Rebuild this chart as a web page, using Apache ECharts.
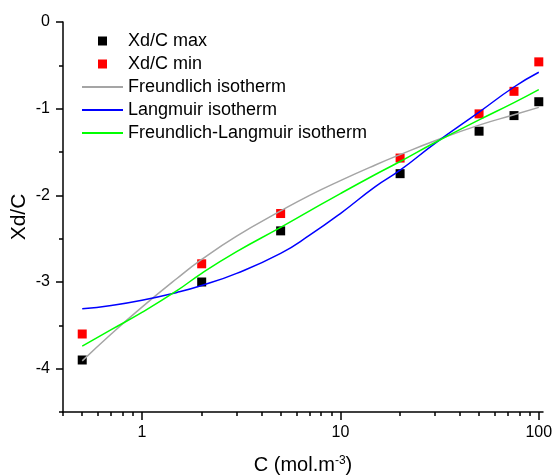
<!DOCTYPE html>
<html>
<head>
<meta charset="utf-8">
<script src="https://cdn.jsdelivr.net/npm/echarts@6/dist/echarts.min.js"></script>
<style>
  html, body { margin: 0; padding: 0; background: #fff; }
  #chart { width: 554px; height: 475px; }
</style>
</head>
<body>
<div id="chart"></div>
<script>
// measured points
const concentrations = [0.5, 2, 5, 20, 50, 75, 100];
const xdcMax = [-3.90, -3.00, -2.41, -1.75, -1.26, -1.08, -0.92];
const xdcMin = [-3.60, -2.79, -2.21, -1.57, -1.06, -0.80, -0.46];

// fitted isotherm curves
const curveC = [0.5, 0.7, 1, 1.5, 2, 3, 5, 7, 10, 15, 20, 30, 50, 75, 100];
const freundlich = [-3.91, -3.60, -3.29, -2.96, -2.74, -2.47, -2.18, -2.00, -1.83, -1.65, -1.53, -1.37, -1.19, -1.07, -0.985];
const langmuir = [-3.31, -3.27, -3.21, -3.12, -3.04, -2.90, -2.67, -2.46, -2.21, -1.90, -1.71, -1.40, -1.04, -0.75, -0.58];
const freundlichLangmuir = [-3.74, -3.55, -3.35, -3.10, -2.90, -2.65, -2.37, -2.18, -1.98, -1.76, -1.61, -1.39, -1.13, -0.93, -0.78];

// axis ticks
const xMajorTicks = [1, 10, 100];
const xMinorTicks = [0.4, 0.5, 0.6, 0.7, 0.8, 0.9, 2, 3, 4, 5, 6, 7, 8, 9, 20, 30, 40, 50, 60, 70, 80, 90];
const yMajorTicks = [-4, -3, -2, -1, 0];
const yMinorTicks = [-4.5, -3.5, -2.5, -1.5, -0.5];

const zip = (xs, ys) => xs.map((x, i) => [x, ys[i]]);

const chart = echarts.init(document.getElementById('chart'));
const black = '#000';
const axisLine = { show: true, onZero: false, lineStyle: { color: black, width: 1.5 } };
const squareIcon = 'path://M0 0H10V10H0Z';
const noDot = { opacity: 0 };

chart.setOption({
    animation: false,
    textStyle: { fontFamily: 'Liberation Sans, Arial, sans-serif' },
    grid: { left: 63, right: 11, top: 22, bottom: 63, outerBoundsMode: 'none' },
    legend: {
        orient: 'vertical',
        left: 81,
        top: 32,
        padding: 0,
        itemWidth: 41,
        itemHeight: 9,
        itemGap: 5,
        textStyle: { fontSize: 18, lineHeight: 18, color: black },
        data: [
            { name: 'Xd/C max', icon: squareIcon },
            { name: 'Xd/C min', icon: squareIcon },
            { name: 'Freundlich isotherm', itemStyle: noDot },
            { name: 'Langmuir isotherm', itemStyle: noDot },
            { name: 'Freundlich-Langmuir isotherm', itemStyle: noDot }
        ]
    },
    xAxis: [
        {
            type: 'log', logBase: 10, min: 0.4, max: 105, position: 'bottom',
            axisLine,
            axisTick: { customValues: xMajorTicks, length: 8, lineStyle: { color: black, width: 1.5 } },
            axisLabel: { customValues: xMajorTicks, fontSize: 16, color: black, margin: 13 },
            splitLine: { show: false },
            name: 'C (mol.m{sup|-3})',
            nameLocation: 'middle',
            nameGap: 43,
            nameMoveOverlap: false,
            nameTextStyle: {
                fontSize: 20, color: black,
                rich: { sup: { fontSize: 12, verticalAlign: 'top', color: black } }
            }
        },
        {
            type: 'log', logBase: 10, min: 0.4, max: 105, position: 'bottom',
            axisLine: { show: false, onZero: false },
            axisTick: { customValues: xMinorTicks, length: 4, lineStyle: { color: black, width: 1.5 } },
            axisLabel: { show: false },
            splitLine: { show: false }
        }
    ],
    yAxis: [
        {
            type: 'value', min: -4.5, max: 0, position: 'left',
            axisLine,
            axisTick: { customValues: yMajorTicks, length: 7, lineStyle: { color: black, width: 1.5 } },
            axisLabel: { customValues: yMajorTicks, fontSize: 16, color: black, margin: 13 },
            splitLine: { show: false },
            name: 'Xd/C',
            nameLocation: 'middle',
            nameGap: 33,
            nameMoveOverlap: false,
            nameTextStyle: { fontSize: 21, color: black }
        },
        {
            type: 'value', min: -4.5, max: 0, position: 'left',
            axisLine: { show: false, onZero: false },
            axisTick: { customValues: yMinorTicks, length: 4, lineStyle: { color: black, width: 1.5 } },
            axisLabel: { show: false },
            splitLine: { show: false }
        }
    ],
    series: [
        {
            name: 'Xd/C max', type: 'scatter', symbol: 'rect', symbolSize: 9,
            itemStyle: { color: black, opacity: 1 }, data: zip(concentrations, xdcMax), z: 2
        },
        {
            name: 'Xd/C min', type: 'scatter', symbol: 'rect', symbolSize: 9,
            itemStyle: { color: '#ff0000', opacity: 1 }, data: zip(concentrations, xdcMin), z: 2
        },
        {
            name: 'Freundlich isotherm', type: 'line', smooth: true, symbol: 'none',
            lineStyle: { color: '#a5a5a5', width: 1.5 }, itemStyle: { color: '#a5a5a5' },
            data: zip(curveC, freundlich), z: 3
        },
        {
            name: 'Langmuir isotherm', type: 'line', smooth: true, symbol: 'none',
            lineStyle: { color: '#0000ff', width: 1.5 }, itemStyle: { color: '#0000ff' },
            data: zip(curveC, langmuir), z: 3
        },
        {
            name: 'Freundlich-Langmuir isotherm', type: 'line', smooth: true, symbol: 'none',
            lineStyle: { color: '#00ff00', width: 1.5 }, itemStyle: { color: '#00ff00' },
            data: zip(curveC, freundlichLangmuir), z: 3
        }
    ]
});
</script>
</body>
</html>
